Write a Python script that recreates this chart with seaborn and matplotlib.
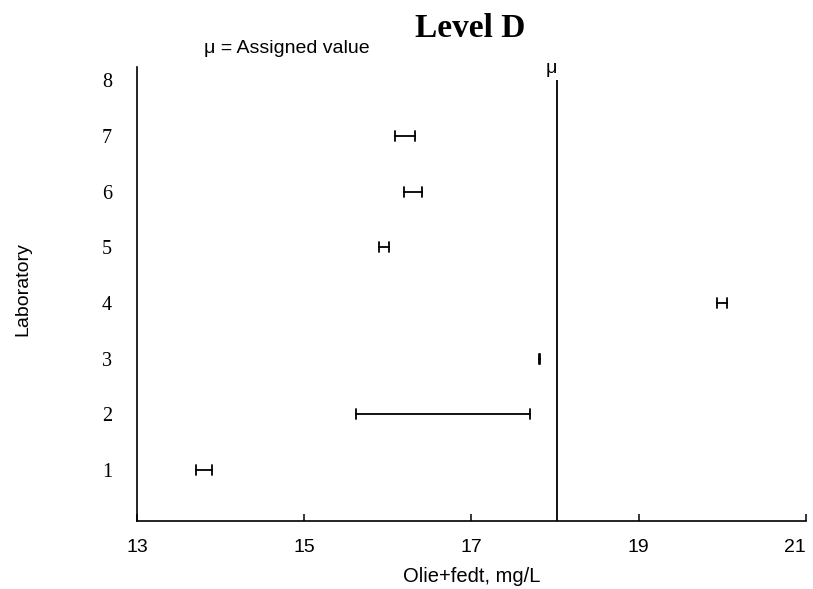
import numpy as np
import pandas as pd
import seaborn as sns
import matplotlib
matplotlib.use("Agg")
import matplotlib.pyplot as plt

labs = [1, 2, 3, 4, 5, 6, 7]
low = [13.71, 15.62, 17.805, 19.93, 15.89, 16.19, 16.09]
high = [13.90, 17.70, 17.815, 20.06, 16.01, 16.41, 16.32]
assigned = 18.02
xticks = [13, 15, 17, 19, 21]
yticks = [1, 2, 3, 4, 5, 6, 7, 8]

df = pd.DataFrame({
    "lab": labs * 2,
    "value": low + high,
})

sns.set_style("white")
plt.rcParams['font.family'] = ['Liberation Sans', 'DejaVu Sans']
for k in ["text.color", "axes.labelcolor", "xtick.color", "ytick.color"]:
    plt.rcParams[k] = "black"

fig = plt.figure(figsize=(8.13, 5.89), dpi=100)
ax = fig.add_axes([0.1685, 0.1154, 0.8229, 0.7706])

sns.pointplot(data=df, x="value", y="lab", orient="h", native_scale=True,
              estimator="mean", errorbar=lambda v: (v.min(), v.max()),
              capsize=0.18, color="black", markersize=0, linestyle="none",
              err_kws={"linewidth": 1.3}, ax=ax)

ymin, ymax = 0.085, 8.233
ax.vlines(assigned, ymin, 8, color="black", linewidth=1.3)
ax.text(assigned - 0.07, 8.06, "μ", ha="center", va="bottom", fontsize=14)

ax.set_xlim(13, 21)
ax.set_ylim(ymin, ymax)
ax.set_xticks(xticks)
ax.set_xticklabels([str(t) for t in xticks], fontsize=14)
ax.get_xticklabels()[-1].set_horizontalalignment("right")
ax.set_yticks(yticks)
ax.set_yticklabels([str(t) for t in yticks], fontsize=14.5, family=['Liberation Serif'])
ax.tick_params(axis='x', direction='in', length=5, width=1.1, bottom=True, pad=13)
ax.tick_params(axis='y', length=0, pad=18)
for s in ["top", "right"]:
    ax.spines[s].set_visible(False)
for s in ["left", "bottom"]:
    ax.spines[s].set_color("black")
    ax.spines[s].set_linewidth(1.2)

ax.set_xlabel("Olie+fedt, mg/L", fontsize=14.5, labelpad=8)
ax.set_ylabel("Laboratory", fontsize=14)
ax.yaxis.set_label_coords(-0.158, 0.51)

fig.text(0.578, 0.952, "Level D", ha="center", va="center", fontsize=24,
         fontweight="bold", family=['Liberation Serif'])
fig.text(0.353, 0.918, "μ = Assigned value", ha="center", va="center", fontsize=14)

fig.savefig("out.png", dpi=100)
